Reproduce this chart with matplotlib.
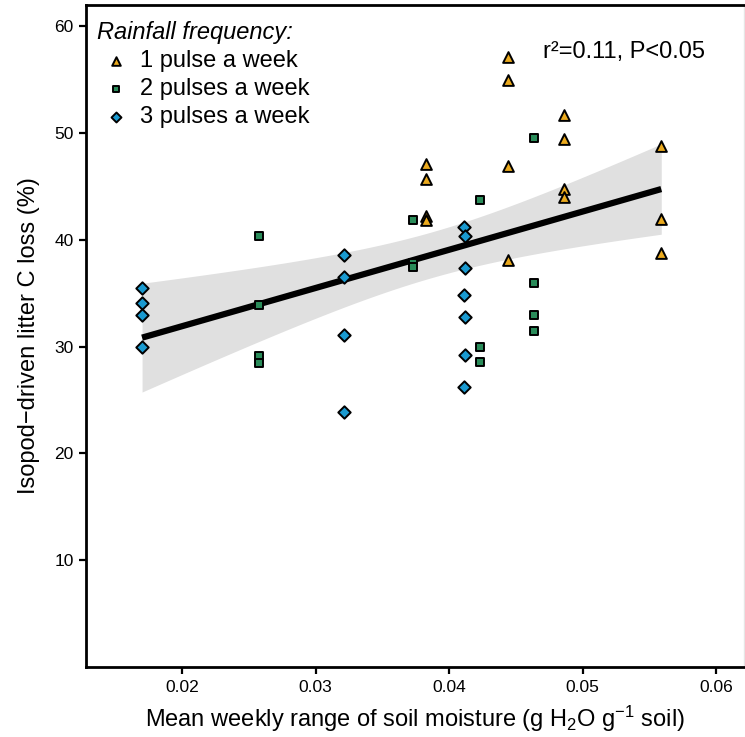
import numpy as np
import matplotlib
matplotlib.use("Agg")
import matplotlib.pyplot as plt

plt.rcParams['font.family'] = ['Liberation Sans', 'DejaVu Sans']
plt.rcParams['mathtext.fontset'] = 'custom'
plt.rcParams['mathtext.rm'] = 'Liberation Sans'
plt.rcParams['mathtext.it'] = 'Liberation Sans:italic'

# data
x_1pulse = [0.0383, 0.0383, 0.0383, 0.0383,
            0.0444, 0.0444, 0.0444, 0.0444,
            0.0486, 0.0486, 0.0486, 0.0486,
            0.0559, 0.0559, 0.0559]
y_1pulse = [47.1, 45.7, 42.2, 41.9,
            57.1, 55.0, 46.9, 38.1,
            51.7, 49.45, 44.75, 44.05,
            48.8, 42.0, 38.8]

x_2pulse = [0.02575, 0.02575, 0.02575, 0.02575,
            0.0373, 0.0373, 0.0373,
            0.0423, 0.0423, 0.0423,
            0.0464, 0.0464, 0.0464, 0.0464]
y_2pulse = [40.35, 33.9, 29.15, 28.45,
            41.9, 37.8, 37.5,
            43.7, 30.0, 28.6,
            49.5, 36.0, 33.0, 31.45]

x_3pulse = [0.017, 0.017, 0.017, 0.017,
            0.0321, 0.0321, 0.0321, 0.0321,
            0.0411, 0.0412, 0.0412, 0.0411, 0.0412, 0.0412, 0.0411]
y_3pulse = [35.45, 34.1, 33.0, 30.0,
            38.6, 36.55, 31.05, 23.85,
            41.2, 40.35, 37.4, 34.85, 32.75, 29.25, 26.25]

labels = ["1 pulse a week", "2 pulses a week", "3 pulses a week"]
colors = ["#EBAA1E", "#2A8C5A", "#1A9AD0"]
markers = ["^", "s", "D"]
sizes = [60, 32, 40]

fig = plt.figure(figsize=(7.45, 7.37), dpi=100)
ax = fig.add_axes([86 / 745, 1 - 667 / 737, 658 / 745, 662 / 737])

# linear fit with 95% confidence band (like geom_smooth lm)
x_all = np.array(x_1pulse + x_2pulse + x_3pulse)
y_all = np.array(y_1pulse + y_2pulse + y_3pulse)
n = len(x_all)
slope, icpt = np.polyfit(x_all, y_all, 1)
resid = y_all - (slope * x_all + icpt)
s = np.sqrt(np.sum(resid ** 2) / (n - 2))
xbar = x_all.mean()
sxx = np.sum((x_all - xbar) ** 2)
xs = np.linspace(x_all.min(), x_all.max(), 200)
fit = slope * xs + icpt
se = s * np.sqrt(1 / n + (xs - xbar) ** 2 / sxx)
tval = 2.018
ax.fill_between(xs, fit - tval * se, fit + tval * se, color="#E0E0E0", lw=0, zorder=1)
ax.plot(xs, fit, color="black", lw=4.5, zorder=2, solid_capstyle="butt")

xs_list = [x_1pulse, x_2pulse, x_3pulse]
ys_list = [y_1pulse, y_2pulse, y_3pulse]
for i in range(3):
    ax.scatter(xs_list[i], ys_list[i], marker=markers[i], s=sizes[i], c=colors[i],
               edgecolors="black", linewidths=1.4, label=labels[i], zorder=3)

ax.set_xlim(0.0128, 0.0621)
ax.set_ylim(0, 62)
ax.set_xticks([0.02, 0.03, 0.04, 0.05, 0.06])
ax.set_xticklabels(["0.02", "0.03", "0.04", "0.05", "0.06"])
ax.set_yticks([10, 20, 30, 40, 50, 60])

for side in ["left", "bottom", "top"]:
    ax.spines[side].set_linewidth(2)
ax.spines["right"].set_color("#E6E6E6")
ax.spines["right"].set_linewidth(1)
ax.tick_params(axis="both", direction="out", length=5, width=1.6, labelsize=12.5, pad=4)

ax.set_ylabel("Isopod\u2212driven litter C loss (%)", fontsize=17, labelpad=10)
ax.set_xlabel("Mean weekly range of soil moisture (g H$_2$O g$^{-1}$ soil)", fontsize=17, labelpad=7)

leg = ax.legend(loc="upper left", bbox_to_anchor=(11 / 658, (667 - 21) / 662),
                title="Rainfall frequency:", frameon=False,
                fontsize=17, title_fontproperties={"style": "italic", "size": 17},
                markerscale=0.8, handletextpad=0.2, labelspacing=0.26,
                borderaxespad=0, handlelength=1.6, borderpad=0)
leg._legend_box.align = "left"

ax.text((705 - 86) / 658, (667 - 58) / 662, "r\u00b2=0.11, P<0.05", transform=ax.transAxes,
        ha="right", va="baseline", fontsize=17)

fig.savefig("out.png", dpi=100)
